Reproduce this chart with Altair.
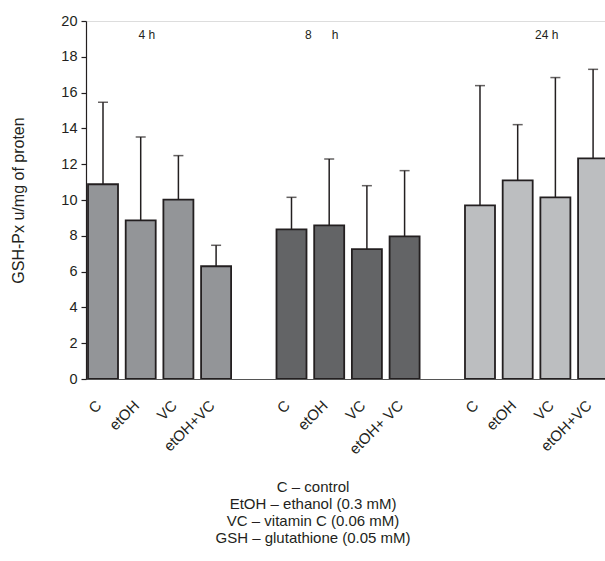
import altair as alt
import pandas as pd

FONT = "Liberation Sans"
DARK = "#231f20"

groups = ["4 h", "8 h", "24 h"]
group_titles = ["4 h", "8\u00a0\u00a0\u00a0\u00a0\u00a0\u00a0h", "24 h"]
group_title_pos = [1.56, 6.2, 12.17]   # annotation anchors, in bar-slot units
group_colors = ["#939598", "#636466", "#bcbec0"]

tick_labels_4h = ["C", "etOH", "VC", "etOH+VC"]
tick_labels_8h = ["C", "etOH", "VC", "etOH+ VC"]
tick_labels_24h = ["C", "etOH", "VC", "etOH+VC"]

means_4h = [10.88, 8.86, 10.02, 6.30]
sd_4h = [4.58, 4.66, 2.46, 1.17]
means_8h = [8.36, 8.58, 7.26, 7.97]
sd_8h = [1.79, 3.71, 3.54, 3.67]
means_24h = [9.70, 11.10, 10.15, 12.33]
sd_24h = [6.69, 3.11, 6.69, 4.97]

y_ticks = [0, 2, 4, 6, 8, 10, 12, 14, 16, 18, 20]

notes = [
    "C \u2013 control",
    "EtOH \u2013 ethanol (0.3 mM)",
    "VC \u2013 vitamin C (0.06 mM)",
    "GSH \u2013 glutathione (0.05 mM)",
]
notes_anchor = (5.97, -5.64)  # annotation anchor (slot units, y units)

rows = []
for gi, (g, labs, ms, sds) in enumerate(zip(
        groups,
        [tick_labels_4h, tick_labels_8h, tick_labels_24h],
        [means_4h, means_8h, means_24h],
        [sd_4h, sd_8h, sd_24h])):
    for ti, (lab, m, s) in enumerate(zip(labs, ms, sds)):
        rows.append({"group": g, "slot": gi * 5 + ti, "label": lab,
                     "mean": m, "upper": m + s})
df = pd.DataFrame(rows)
gdf = pd.DataFrame({"title": group_titles, "pos": group_title_pos})
ndf = pd.DataFrame({"text": ["\n".join(notes)]})

BAR_W = 0.796
xs = alt.Scale(domain=[-0.053, 13.714], nice=False, zero=False)
ys = alt.Scale(domain=[0, 20], nice=False, zero=True)

xaxis = alt.Axis(title=None, labels=False, ticks=False, grid=False,
                 domainColor="#555555", domainWidth=1)
yaxis = alt.Axis(values=y_ticks, title="GSH-Px u/mg of proten",
                 grid=False, tickSize=5, tickColor=DARK, domainColor=DARK,
                 domainWidth=1.2, tickWidth=1.2, labelFontSize=14.5,
                 labelFont=FONT, labelColor=DARK, labelPadding=4,
                 labelFlush=False, labelOverlap=False,
                 titleFont=FONT, titleFontSize=16, titleFontWeight="normal",
                 titleColor=DARK, titleX=-60)

base = alt.Chart(df).transform_calculate(
    x0="datum.slot", x1=f"datum.slot + {BAR_W}", xc=f"datum.slot + {BAR_W / 2}"
)

bars = base.mark_bar(stroke=DARK, strokeWidth=1.8, clip=True).encode(
    x=alt.X("x0:Q", scale=xs, axis=xaxis),
    x2="x1:Q",
    y=alt.Y("mean:Q", scale=ys, axis=yaxis),
    y2=alt.datum(0),
    color=alt.Color("group:N", scale=alt.Scale(domain=groups, range=group_colors),
                    legend=None),
)

err = base.mark_rule(color=DARK, strokeWidth=1.5, clip=True).encode(
    x=alt.X("xc:Q", scale=xs, axis=xaxis),
    y=alt.Y("mean:Q", scale=ys, axis=yaxis), y2="upper:Q"
)
caps = base.mark_tick(orient="horizontal", size=10, thickness=1.5, color=DARK,
                      clip=True).encode(
    x=alt.X("xc:Q", scale=xs, axis=xaxis), y=alt.Y("upper:Q", scale=ys, axis=yaxis)
)

xlabels = base.mark_text(angle=315, align="right", baseline="middle", fontSize=15,
                         font=FONT, color=DARK, xOffset=-4, yOffset=24).encode(
    x=alt.X("xc:Q", scale=xs, axis=xaxis),
    y=alt.Y(datum=0, scale=ys, axis=yaxis), text="label:N"
)

gtitles = alt.Chart(gdf).mark_text(align="center", baseline="middle", fontSize=12,
                                   font=FONT, color=DARK).encode(
    x=alt.X("pos:Q", scale=xs, axis=xaxis),
    y=alt.Y(datum=19.2, scale=ys, axis=yaxis), text="title:N"
)

notes_text = alt.Chart(ndf).mark_text(align="center", baseline="top", fontSize=15,
                                      font=FONT, color=DARK, lineHeight=17,
                                      lineBreak="\n").encode(
    x=alt.X(datum=notes_anchor[0], scale=xs, axis=xaxis),
    y=alt.Y(datum=notes_anchor[1], scale=ys, axis=yaxis),
    text="text:N"
)

chart = alt.layer(bars, err, caps, xlabels, gtitles, notes_text).properties(
    width=519, height=358,
    autosize=alt.AutoSizeParams(type="none"),
    padding={"left": 86, "top": 21, "right": 0, "bottom": 182},
).configure_view(stroke=None).configure(background="white")

chart.save("out.html", embed_options={"renderer": "svg", "actions": False})
